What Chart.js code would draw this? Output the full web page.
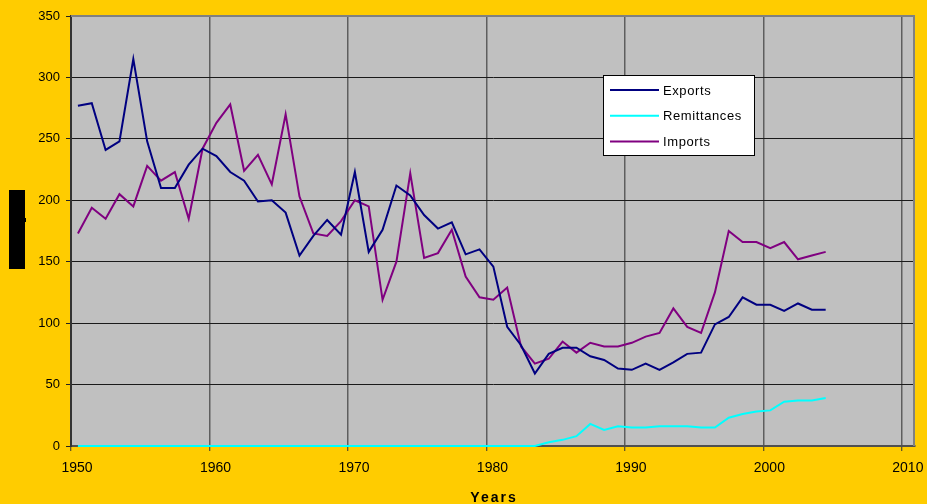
<!DOCTYPE html>
<html><head><meta charset="utf-8">
<script src="https://cdn.jsdelivr.net/npm/chart.js@4.4.1/dist/chart.umd.min.js"></script>
<style>html,body{margin:0;padding:0;background:#FFCC00;overflow:hidden}#wrap{width:927px;height:504px;position:relative}</style>
</head><body><div id="wrap"><canvas id="c" width="927" height="504"></canvas></div>
<script>
const years = [1950,1951,1952,1953,1954,1955,1956,1957,1958,1959,1960,1961,1962,1963,1964,1965,1966,1967,1968,1969,1970,1971,1972,1973,1974,1975,1976,1977,1978,1979,1980,1981,1982,1983,1984,1985,1986,1987,1988,1989,1990,1991,1992,1993,1994,1995,1996,1997,1998,1999,2000,2001,2002,2003,2004];
const exportsData = [277,279,241,248,315,248,210,210,229,242,236,223,216,199,200,190,155,171,184,172,223,158,176,212,204,188,177,182,156,160,146,97,82,59,75,80,80,73,70,63,62,67,62,68,75,76,99,105,121,115,115,110,116,111,111];
const remittancesData = [0,0,0,0,0,0,0,0,0,0,0,0,0,0,0,0,0,0,0,0,0,0,0,0,0,0,0,0,0,0,0,0,0,0,3,5,8,18,13,16,15,15,16,16,16,15,15,23,26,28,29,36,37,37,39];
const importsData = [173,194,185,205,195,228,216,223,185,242,263,278,224,237,213,270,203,173,171,183,200,195,119,150,222,153,157,176,138,121,119,129,81,67,71,85,76,84,81,81,84,89,92,112,97,92,125,175,166,166,161,166,152,155,158];
const seriesNames = ['Exports','Remittances','Imports'];
const xTicks = [1950,1960,1970,1980,1990,2000,2010];
const yTicks = [0,50,100,150,200,250,300,350];
const xTitle = 'Years';

const MIDYEAR = 0.5; // values are plotted at mid-year
const pts = arr => arr.map((v,i)=>({x:years[i]+MIDYEAR, y:v}));
const FONT = '"Liberation Sans", Arial, sans-serif';

const decor = {
  id:'decor',
  beforeDraw(chart){
    const {ctx, chartArea:a} = chart;
    ctx.save();
    ctx.fillStyle = '#FFCC00';
    ctx.fillRect(0,0,chart.width,chart.height);
    ctx.fillStyle = '#C0C0C0';
    ctx.fillRect(a.left,a.top,a.right-a.left,a.bottom-a.top);
    ctx.restore();
  },
  beforeDatasetsDraw(chart){
    const {ctx, chartArea:a} = chart;
    ctx.save();
    ctx.strokeStyle = '#808080';
    ctx.lineWidth = 2;
    ctx.beginPath();
    ctx.moveTo(a.left, a.top);
    ctx.lineTo(a.right-1, a.top);
    ctx.lineTo(a.right-1, a.bottom);
    ctx.stroke();
    ctx.restore();
  },
  afterDraw(chart){
    const ctx = chart.ctx;
    ctx.save();
    // redacted y-axis title block
    ctx.fillStyle = '#000';
    ctx.fillRect(9,190,16,79);
    ctx.fillRect(25,218,1,4);
    // x axis title
    ctx.font = 'bold 14px ' + FONT;
    ctx.letterSpacing = '2px';
    ctx.textAlign = 'center';
    ctx.textBaseline = 'alphabetic';
    ctx.fillStyle = '#000';
    const xs = chart.scales.x;
    ctx.fillText(xTitle, (xs.left+xs.right)/2 + 1, 502);
    // legend
    ctx.letterSpacing = '0.6px';
    ctx.fillStyle = '#FFFFFF';
    ctx.fillRect(603,75,152,81);
    ctx.strokeStyle = '#000';
    ctx.lineWidth = 1;
    ctx.strokeRect(603.5,75.5,151,80);
    ctx.font = '13px ' + FONT;
    ctx.textAlign = 'left';
    ctx.textBaseline = 'middle';
    chart.data.datasets.forEach((ds,i)=>{
      const y = 90 + i*25.8;
      ctx.strokeStyle = ds.borderColor;
      ctx.lineWidth = 2;
      ctx.beginPath();
      ctx.moveTo(610,y); ctx.lineTo(659,y);
      ctx.stroke();
      ctx.fillStyle = '#000';
      ctx.fillText(ds.label, 663, y+1);
    });
    ctx.restore();
  }
};

const CLIP = {left:4, top:4, right:4, bottom:4};
new Chart(document.getElementById('c'), {
  type:'line',
  data:{
    datasets:[
      {label:seriesNames[0], data:pts(exportsData), borderColor:'#000080', backgroundColor:'#000080', clip:CLIP},
      {label:seriesNames[1], data:pts(remittancesData), borderColor:'#00FFFF', backgroundColor:'#00FFFF', clip:CLIP},
      {label:seriesNames[2], data:pts(importsData), borderColor:'#800080', backgroundColor:'#800080', clip:CLIP}
    ]
  },
  options:{
    responsive:false,
    animation:false,
    devicePixelRatio:1,
    layout:{padding:{top:16,right:12,left:0,bottom:0}},
    elements:{point:{radius:0}, line:{borderWidth:2, tension:0, fill:false}},
    plugins:{legend:{display:false}, tooltip:{enabled:false}},
    scales:{
      x:{
        type:'linear', min:1950, max:2010.95,
        afterBuildTicks:s=>{ s.ticks = xTicks.map(v=>({value:v})); },
        afterFit:s=>{ s.height = 58; },
        grid:{color:'#5e5e5e', lineWidth:1.5, drawTicks:true, tickLength:5, tickColor:'#333', tickWidth:1},
        border:{color:'#505050', width:2},
        ticks:{font:{family:FONT,size:14}, color:'#000', padding:9, labelOffset:6, maxRotation:0, autoSkip:false, callback:v=>String(v)}
      },
      y:{
        min:0, max:350,
        afterBuildTicks:s=>{ s.ticks = yTicks.map(v=>({value:v})); },
        afterFit:s=>{ s.width = 71; },
        grid:{color:'#1a1a1a', lineWidth:1, drawTicks:true, tickLength:5, tickColor:'#222', tickWidth:1},
        border:{color:'#333', width:2},
        ticks:{font:{family:FONT,size:13}, color:'#000', padding:6, callback:v=>String(v)}
      }
    }
  },
  plugins:[decor]
});
</script></body></html>
